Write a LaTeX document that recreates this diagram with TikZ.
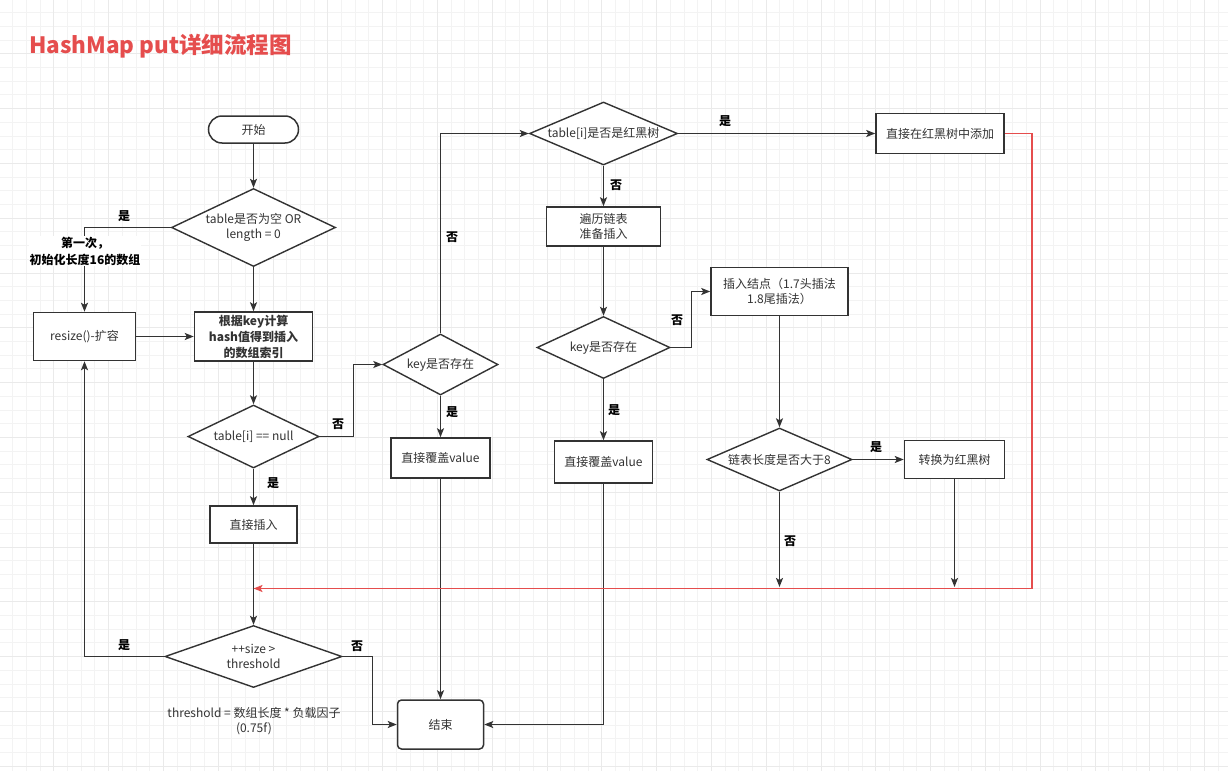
\documentclass[tikz,border=0pt]{standalone}
\usepackage{fontspec}
\setmainfont{Noto Sans CJK SC}
\usetikzlibrary{shapes.geometric,arrows.meta}
\definecolor{ln}{HTML}{333333}
\definecolor{rd}{HTML}{E54D4D}
\definecolor{gridminor}{HTML}{F3F3F3}
\definecolor{gridmajor}{HTML}{EAEAEA}
\begin{document}
\begin{tikzpicture}[x=1pt,y=-1pt,
  box/.style={draw=ln, line width=1.5pt, rectangle, inner sep=2pt, align=center, text=ln, font=\fontsize{12}{15}\selectfont},
  dia/.style={draw=ln, line width=1.4pt, diamond, inner sep=0pt},
  txt/.style={align=center, text=ln, font=\fontsize{12}{15}\selectfont, inner sep=0pt},
  lbl/.style={font=\fontsize{12}{14}\selectfont\bfseries, text=black, inner sep=0pt},
  arr/.style={draw=ln, line width=1.4pt, -{Stealth[length=9pt,width=7pt,inset=2pt]}},
  redarr/.style={draw=rd, line width=1.8pt, -{Stealth[length=9pt,width=7pt,inset=2pt]}}]
\useasboundingbox (0,0) rectangle (1228,771);
\fill[white] (0,0) rectangle (1228,771);
% grid
\foreach \i in {0,...,89} \draw[gridminor, line width=1pt] ({12.7+13.7*\i},0) -- ({12.7+13.7*\i},771);
\foreach \i in {0,...,55} \draw[gridminor, line width=1pt] (0,{12.7+13.7*\i}) -- (1228,{12.7+13.7*\i});
\foreach \i in {0,...,22} \draw[gridmajor, line width=1pt] ({53.8+54.8*\i},0) -- ({53.8+54.8*\i},771);
\foreach \i in {0,...,14} \draw[gridmajor, line width=1pt] (0,{53.8+54.8*\i}) -- (1228,{53.8+54.8*\i});

% title
\node[font=\fontsize{22.5}{26}\selectfont\bfseries, text=rd, anchor=west, inner sep=0pt] (title) at (29,46) {HashMap put详细流程图};

% nodes
\node[box, fill=white, rounded corners=13.5pt, minimum width=90pt, minimum height=27pt] (start) at (253.5,129.5) {开始};
\node[dia, fill=white, minimum width=164pt, minimum height=78pt] (d1) at (253.5,227.5) {};
\node[txt] (d1t) at (d1.center) {table是否为空 OR\\length = 0};
\node[box, fill=white, minimum width=102pt, minimum height=48pt] (resize) at (84.5,336.5) {resize()-扩容};
\node[box, fill=white, minimum width=118pt, minimum height=49pt, font=\fontsize{12}{16}\selectfont\bfseries] (hash) at (253.5,336.5) {根据key计算\\hash值得到插入\\的数组索引};
\node[dia, fill=white, minimum width=131pt, minimum height=63pt] (d2) at (253.5,436.5) {};
\node[txt] (d2t) at (d2.center) {table[i] == null};
\node[box, fill=white, minimum width=87pt, minimum height=37pt] (ins) at (253.5,524.5) {直接插入};
\node[dia, fill=white, minimum width=177pt, minimum height=62pt] (d3) at (253.5,656.5) {};
\node[txt] (d3t) at (d3.center) {++size >\\threshold};
\node[txt] (note) at (254,721.5) {threshold = 数组长度 * 负载因子\\(0.75f)};
\node[box, fill=white, rounded corners=4pt, minimum width=86pt, minimum height=49pt] (end) at (440.5,724.5) {结束};
\node[dia, fill=white, minimum width=115pt, minimum height=61pt] (d4) at (440.5,364.5) {};
\node[txt] (d4t) at (d4.center) {key是否存在};
\node[box, fill=white, minimum width=99pt, minimum height=40pt] (cov1) at (440.5,458) {直接覆盖value};
\node[dia, fill=white, minimum width=148pt, minimum height=63pt] (d5) at (603.5,133.5) {};
\node[txt] (d5t) at (d5.center) {table[i]是否是红黑树};
\node[box, fill=white, minimum width=114pt, minimum height=39pt] (trav) at (603.5,226.5) {遍历链表\\准备插入};
\node[dia, fill=white, minimum width=133pt, minimum height=62pt] (d6) at (603.5,347.5) {};
\node[txt] (d6t) at (d6.center) {key是否存在};
\node[box, fill=white, minimum width=98pt, minimum height=42pt] (cov2) at (603.5,462) {直接覆盖value};
\node[box, fill=white, minimum width=128pt, minimum height=40pt] (rbadd) at (940,133.5) {直接在红黑树中添加};
\node[box, fill=white, minimum width=137pt, minimum height=48pt] (insnode) at (779.5,291.5) {插入结点（1.7头插法\\1.8尾插法）};
\node[dia, fill=white, minimum width=145pt, minimum height=63pt] (d7) at (779.5,459.5) {};
\node[txt] (d7t) at (d7.center) {链表长度是否大于8};
\node[box, fill=white, minimum width=100pt, minimum height=38pt] (conv) at (954.5,459.5) {转换为红黑树};

\coordinate (m0) at (253.5,588.5);
\coordinate (m1) at (779.5,587);
\coordinate (m2) at (954.5,587);

% connectors
\draw[arr] (start) -- (d1);
\draw[arr] (d1) -- (hash);
\draw[arr] (d1.west) -| (resize.north);
\node[lbl] (l1) at (124,216) {是};
\node[lbl, fill=white, inner sep=1pt, align=center, font=\fontsize{12}{17}\selectfont\bfseries] (l1b) at (85,251) {第一次，\\初始化长度16的数组};
\draw[arr] (resize) -- (hash);
\draw[arr] (hash) -- (d2);
\draw[arr] (d2.east) -- ++(33.5,0) |- (d4.west);
\node[lbl] (l2) at (338,424) {否};
\draw[arr] (d2) -- (ins);
\node[lbl] (l3) at (273,483) {是};
\draw[arr] (ins) -- (d3);
\draw[arr] (d3.west) -| (resize.south);
\node[lbl] (l4) at (124,645) {是};
\draw[arr] (d3.east) -- ++(29.5,0) |- (end.west);
\node[lbl] (l5) at (357,646) {否};
\draw[arr] (d4.north) |- (d5.west);
\node[lbl] (l6) at (452,237) {否};
\draw[arr] (d4) -- (cov1);
\node[lbl] (l7) at (452,412) {是};
\draw[arr] (cov1) -- (end);
\draw[arr] (d5) -- (rbadd);
\node[lbl] (l8) at (725,121) {是};
\draw[arr] (d5) -- (trav);
\node[lbl] (l9) at (616,185) {否};
\draw[arr] (trav) -- (d6);
\draw[arr] (d6.east) -- ++(20.5,0) |- (insnode.west);
\node[lbl] (l10) at (677,320) {否};
\draw[arr] (d6) -- (cov2);
\node[lbl] (l11) at (614,410) {是};
\draw[arr] (cov2.south) |- (end.east);
\draw[arr] (insnode) -- (d7);
\draw[arr] (d7) -- (conv);
\node[lbl] (l12) at (876,447) {是};
\draw[arr] (d7.south) -- (m1);
\node[lbl] (l13) at (790,541) {否};
\draw[arr] (conv.south) -- (m2);
\draw[redarr] (rbadd.east) -- ++(27.5,0) |- (m0);
\end{tikzpicture}
\end{document}
